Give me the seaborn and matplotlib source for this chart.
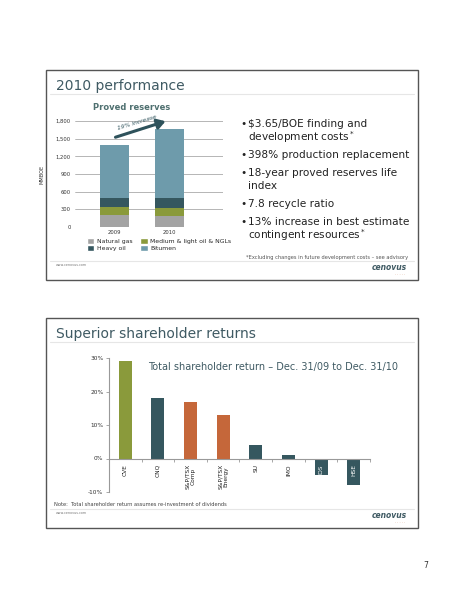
import matplotlib
matplotlib.use("Agg")
import matplotlib.pyplot as plt
from matplotlib.patches import Rectangle, Patch
from matplotlib.lines import Line2D
import seaborn as sns
import pandas as pd

# proved reserves (MMBOE)
years = ["2009", "2010"]
natural_gas = [205, 195]
medium_light = [135, 135]
heavy_oil = [155, 155]
bitumen = [890, 1180]
reserve_ticks = [0, 300, 600, 900, 1200, 1500, 1800]

# total shareholder return (%)
tickers = ["CVE", "CNQ", "S&P/TSX\nComp", "S&P/TSX\nEnergy", "SU", "IMO", "COS", "HSE"]
returns = [29, 18, 17, 13, 4, 1, -5, -8]
return_ticks = [-10, 0, 10, 20, 30]

bullets = [
    ["$3.65/BOE finding and", "development costs$^*$"],
    ["398% production replacement"],
    ["18-year proved reserves life", "index"],
    ["7.8 recycle ratio"],
    ["13% increase in best estimate", "contingent resources$^*$"],
]

GREEN = "#8a9a3b"
TEAL = "#35575f"
ORANGE = "#c5673a"
GRAY = "#a3a3a3"
LIGHTBLUE = "#6e9bab"
TITLE_C = "#3f5a63"

sns.set_theme(style="white")
plt.rcParams["font.family"] = ["DejaVu Sans"]

W, H = 464, 600
fig = plt.figure(figsize=(4.64, 6.0), dpi=100)


def fx(x):
    return x / W


def fy(y):
    return 1 - y / H


def slide(top, title):
    fig.patches.append(Rectangle((fx(46), fy(top + 210)), fx(418) - fx(46), fy(top) - fy(top + 210),
                                 transform=fig.transFigure, fill=False, edgecolor="#555555", lw=1.0))
    fig.text(fx(56), fy(top + 16), title, fontsize=10, color=TITLE_C, va="center")
    fig.add_artist(Line2D([fx(50), fx(414)], [fy(top + 24), fy(top + 24)], transform=fig.transFigure,
                          color="#e6e6e6", lw=0.8))
    fig.add_artist(Line2D([fx(50), fx(414)], [fy(top + 191), fy(top + 191)], transform=fig.transFigure,
                          color="#e6e6e6", lw=0.8))
    fig.text(fx(56), fy(top + 195), "www.cenovus.com", fontsize=2.4, color="#777777", va="center")
    fig.text(fx(407), fy(top + 197), "cenovus", fontsize=5.5, color=TITLE_C, style="italic",
             weight="bold", ha="right", va="center")
    fig.text(fx(405), fy(top + 204), ". . . . .", fontsize=2.5, color=ORANGE, ha="right", va="center")


slide(70, "2010 performance")
slide(318, "Superior shareholder returns")

# ---- top chart: stacked proved reserves ----
ax1 = fig.add_axes([fx(75), fy(227), fx(223) - fx(75), fy(121) - fy(227)])
layers = [("Natural gas", natural_gas, GRAY), ("Medium & light oil & NGLs", medium_light, GREEN),
          ("Heavy oil", heavy_oil, TEAL), ("Bitumen", bitumen, LIGHTBLUE)]
cum = []
running = [0, 0]
for name, vals, col in layers:
    running = [r + v for r, v in zip(running, vals)]
    cum.append((name, list(running), col))
for name, tops, col in reversed(cum):
    df = pd.DataFrame({"year": years, "value": tops})
    sns.barplot(data=df, x="year", y="value", color=col, width=0.53, saturation=1, ax=ax1, zorder=3,
                linewidth=0)
ax1.set_xlim(-0.72, 1.98)
ax1.set_ylim(0, 1800)
ax1.set_yticks(reserve_ticks)
ax1.set_yticklabels([f"{t:,}" for t in reserve_ticks], fontsize=3.8, color="#333333")
ax1.yaxis.grid(True, color="#999999", lw=0.5)
ax1.set_axisbelow(True)
for s in ax1.spines.values():
    s.set_visible(False)
ax1.tick_params(axis="both", length=0, pad=3)
ax1.tick_params(axis="x", labelsize=3.8, labelcolor="#333333", pad=2)
ax1.set_xlabel("")
ax1.set_ylabel("MMBOE", fontsize=3.6, color="#333333", labelpad=8)
ax1.annotate("", xy=(0.98, 1810), xytext=(-0.03, 1510),
             arrowprops=dict(arrowstyle="-|>,head_width=0.25,head_length=0.4", color="#2e525b", lw=2.2),
             annotation_clip=False)
ax1.text(0.42, 1765, "19% increase", fontsize=4.3, color="#2e525b", rotation=17, ha="center", va="center",
         style="italic")
fig.text(fx(132), fy(108), "Proved reserves", fontsize=6, weight="bold", color="#4f7070", ha="center",
         va="center")

handles = [Patch(facecolor=c, label=n) for n, _, c in layers]
handles = [handles[0], handles[2], handles[1], handles[3]]
fig.legend(handles=handles, ncol=2, loc="upper left", bbox_to_anchor=(fx(84), fy(235)), frameon=False,
           fontsize=4.4, handlelength=1.2, handleheight=1.0, handletextpad=0.4, columnspacing=1.3,
           labelspacing=0.2, borderpad=0)

# bullets
y = 124
for b in bullets:
    fig.text(fx(240), fy(y), "\u2022", fontsize=7.6, color="#222222", va="center")
    for i, line in enumerate(b):
        fig.text(fx(248), fy(y), line, fontsize=7.6, color="#222222", va="center")
        y += 13
    y += 5
fig.text(fx(408), fy(257), "*Excluding changes in future development costs \u2013 see advisory", fontsize=3.7,
         color="#555555", ha="right", va="center")

# ---- bottom chart: total shareholder return ----
ax2 = fig.add_axes([fx(109), fy(492), fx(370) - fx(109), fy(358) - fy(492)])
colors = [GREEN, TEAL, ORANGE, ORANGE, TEAL, TEAL, TEAL, TEAL]
df2 = pd.DataFrame({"ticker": tickers, "ret": returns})
sns.barplot(data=df2, x="ticker", y="ret", hue="ticker", palette=dict(zip(tickers, colors)), legend=False,
            width=0.4, saturation=1, ax=ax2, zorder=1, linewidth=0)
ax2.set_axisbelow(False)
ax2.set_xlim(-0.5, 7.5)
ax2.set_ylim(-10, 30)
ax2.set_yticks(return_ticks)
ax2.set_yticklabels([f"{t}%" for t in return_ticks], fontsize=4.2, color="#333333")
for s in ["top", "right"]:
    ax2.spines[s].set_visible(False)
ax2.spines["bottom"].set_position(("data", 0))
for s in ["left", "bottom"]:
    ax2.spines[s].set_color("#999999")
    ax2.spines[s].set_linewidth(0.8)
ax2.set_xticks(range(len(tickers)))
ax2.set_xticklabels(tickers, rotation=90, fontsize=4.2, color="#222222", va="top", ha="center",
                    linespacing=1.0)
for lbl, v in zip(ax2.get_xticklabels(), returns):
    if v < -3:
        lbl.set_color("white")
ax2.set_xticks([i + 0.5 for i in range(len(tickers))], minor=True)
ax2.tick_params(axis="x", which="major", length=0, pad=4, bottom=True)
ax2.tick_params(axis="x", which="minor", length=2, color="#999999", width=0.6, direction="out", bottom=True)
ax2.tick_params(axis="y", length=2, color="#999999", width=0.6, direction="out", pad=2, left=True)
ax2.set_xlabel("")
ax2.set_ylabel("")
fig.text(fx(148), fy(367), "Total shareholder return \u2013 Dec. 31/09 to Dec. 31/10", fontsize=7.0,
         color=TITLE_C, va="center")
fig.text(fx(54), fy(504), "Note:  Total shareholder return assumes re-investment of dividends", fontsize=3.7,
         color="#444444", va="center")

fig.text(fx(426), fy(566), "7", fontsize=5.5, color="#333333", ha="center", va="center")

fig.savefig("out.png", dpi=100)
